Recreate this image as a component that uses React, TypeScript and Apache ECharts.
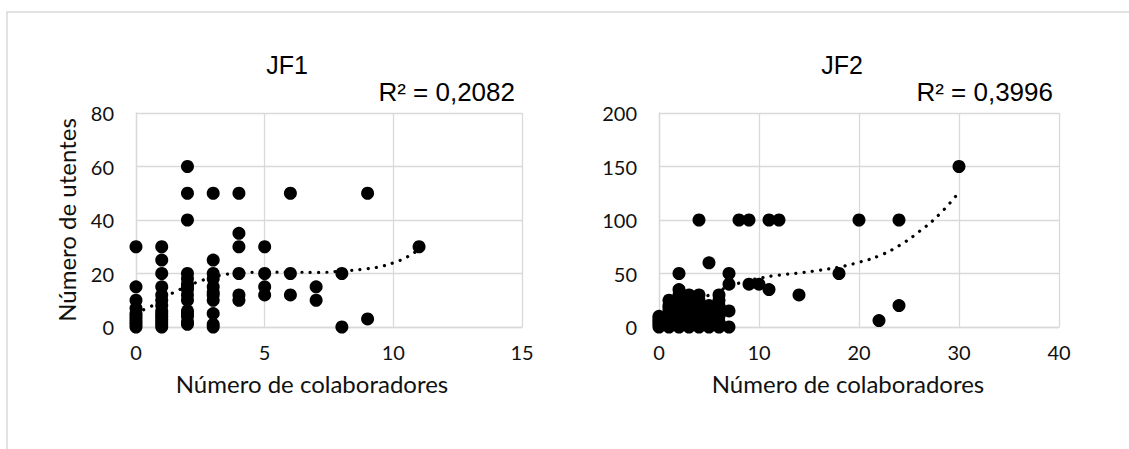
import React, { useEffect, useRef } from "react";
import * as echarts from "echarts";

// JF1 observations [colaboradores, utentes]
const jf1Points: number[][] = [
  [0, 0], [0, 1], [0, 2], [0, 3], [0, 4], [0, 5], [0, 7], [0, 10], [0, 15], [0, 30],
  [1, 0], [1, 1], [1, 2], [1, 3], [1, 4], [1, 5], [1, 6], [1, 8], [1, 10], [1, 12], [1, 15], [1, 20], [1, 25], [1, 30],
  [2, 1], [2, 2], [2, 4], [2, 5], [2, 6], [2, 10], [2, 12], [2, 14], [2, 15], [2, 16], [2, 18], [2, 20], [2, 40], [2, 50], [2, 60],
  [3, 0], [3, 1], [3, 5], [3, 10], [3, 12], [3, 13], [3, 15], [3, 18], [3, 20], [3, 25], [3, 50],
  [4, 10], [4, 12], [4, 20], [4, 30], [4, 35], [4, 50],
  [5, 12], [5, 15], [5, 20], [5, 30],
  [6, 12], [6, 20], [6, 50],
  [7, 10], [7, 15],
  [8, 0], [8, 20],
  [9, 3], [9, 50],
  [11, 30],
];

// JF1 dotted trend line
const jf1Trend: number[][] = [
  [0, 5.5], [0.5, 7.3], [1, 10.3], [1.5, 13.1], [2, 15.2], [2.5, 17.2], [3, 18.6], [3.5, 19.7],
  [4, 20.2], [5, 20.5], [6, 20.5], [7, 20.4], [8, 20.9], [9, 21.8], [9.5, 22.6], [10, 24], [10.5, 26], [11, 29],
];

// JF2 observations [colaboradores, utentes]
const jf2Points: number[][] = [
  [0, 0], [0, 2], [0, 4], [0, 6], [0, 8], [0, 10],
  [1, 0], [1, 3], [1, 5], [1, 8], [1, 10], [1, 12], [1, 15], [1, 18], [1, 20], [1, 25],
  [2, 0], [2, 3], [2, 5], [2, 8], [2, 10], [2, 12], [2, 15], [2, 18], [2, 20], [2, 25], [2, 30], [2, 35], [2, 50],
  [3, 0], [3, 3], [3, 5], [3, 8], [3, 10], [3, 12], [3, 15], [3, 20], [3, 25], [3, 30],
  [4, 0], [4, 5], [4, 10], [4, 15], [4, 20], [4, 25], [4, 30], [4, 100],
  [5, 0], [5, 5], [5, 8], [5, 10], [5, 15], [5, 20], [5, 60],
  [6, 0], [6, 5], [6, 10], [6, 15], [6, 20], [6, 25], [6, 30],
  [7, 0], [7, 15], [7, 40], [7, 50],
  [8, 100], [9, 40], [9, 100], [10, 40], [11, 35], [11, 100], [12, 100],
  [14, 30], [18, 50], [20, 100], [22, 6], [24, 20], [24, 100], [30, 150],
];

// JF2 dotted trend line
const jf2Trend: number[][] = [
  [2, 14], [4, 25], [6, 34], [8, 41], [10, 45.5], [12, 48.5], [14, 50.5], [16, 53],
  [18, 56], [20, 60.5], [22, 66.5], [24, 76], [26, 89], [28, 105], [30, 126],
];

const jf1XTicks = { min: 0, max: 15, interval: 5 };
const jf1YTicks = { min: 0, max: 80, interval: 20 };
const jf2XTicks = { min: 0, max: 40, interval: 10 };
const jf2YTicks = { min: 0, max: 200, interval: 50 };

const titles = ["JF1", "JF2"];
const r2Labels = ["R² = 0,2082", "R² = 0,3996"];
const xAxisTitle = "Número de colaboradores";
const yAxisTitle = "Número de utentes";

const GRID = "#d9d9d9";
const TXT = "#111";
const LABEL_FONT = "Lato, 'Noto Sans', sans-serif";
const TITLE_FONT = "'Liberation Sans', Arial, sans-serif";

function axisX(idx: number, t: { min: number; max: number; interval: number }, shiftPad: number) {
  return {
    type: "value",
    gridIndex: idx,
    min: t.min,
    max: t.max,
    interval: t.interval,
    name: xAxisTitle,
    nameLocation: "middle",
    nameGap: 44,
    nameTextStyle: { color: TXT, fontSize: 24, fontFamily: LABEL_FONT, padding: [0, shiftPad, 0, 0] },
    axisLine: { show: true, lineStyle: { color: GRID, width: 1.3 } },
    axisTick: { show: false },
    axisLabel: { color: TXT, fontSize: 20, fontFamily: LABEL_FONT, margin: 15 },
    splitLine: { show: true, lineStyle: { color: GRID, width: 1.3 } },
  };
}

function axisY(idx: number, t: { min: number; max: number; interval: number }, withName: boolean) {
  return {
    type: "value",
    gridIndex: idx,
    min: t.min,
    max: t.max,
    interval: t.interval,
    name: withName ? yAxisTitle : "",
    nameLocation: "middle",
    nameGap: 58,
    nameRotate: 90,
    nameTextStyle: { color: TXT, fontSize: 24, fontFamily: LABEL_FONT },
    axisLine: { show: true, lineStyle: { color: GRID, width: 1.3 } },
    axisTick: { show: false },
    axisLabel: { color: TXT, fontSize: 20, fontFamily: LABEL_FONT, margin: 22 },
    splitLine: { show: true, lineStyle: { color: GRID, width: 1.3 } },
  };
}

const trendStyle = { color: "#000", width: 3.2, type: [0.1, 8.2], cap: "round" };
const markerStyle = { color: "#000", opacity: 1 };

export default function App() {
  const ref = useRef<HTMLDivElement>(null);
  useEffect(() => {
    if (!ref.current) return;
    const chart = echarts.init(ref.current, null, { renderer: "svg" });
    chart.setOption({
      animation: false,
      backgroundColor: "#fff",
      graphic: [
        {
          type: "rect",
          silent: true,
          z: -10,
          shape: { x: 7, y: 12, width: 1300, height: 600 },
          style: { fill: "none", stroke: GRID, lineWidth: 1.5 },
        },
        {
          type: "text",
          x: 287,
          y: 65,
          style: { text: titles[0], fontSize: 25, fontFamily: TITLE_FONT, fill: "#000", align: "center", verticalAlign: "middle" },
        },
        {
          type: "text",
          x: 842,
          y: 65,
          style: { text: titles[1], fontSize: 25, fontFamily: TITLE_FONT, fill: "#000", align: "center", verticalAlign: "middle" },
        },
        {
          type: "text",
          x: 515,
          y: 92,
          style: { text: r2Labels[0], fontSize: 26, fontFamily: TITLE_FONT, fill: "#000", align: "right", verticalAlign: "middle" },
        },
        {
          type: "text",
          x: 1053,
          y: 92,
          style: { text: r2Labels[1], fontSize: 26, fontFamily: TITLE_FONT, fill: "#000", align: "right", verticalAlign: "middle" },
        },
      ],
      grid: [
        { left: 136, top: 113, width: 386, height: 214 },
        { left: 659, top: 113, width: 400, height: 214 },
      ],
      xAxis: [axisX(0, jf1XTicks, 34), axisX(1, jf2XTicks, 22)],
      yAxis: [axisY(0, jf1YTicks, true), axisY(1, jf2YTicks, false)],
      series: [
        {
          type: "scatter",
          xAxisIndex: 0,
          yAxisIndex: 0,
          data: jf1Points,
          symbolSize: 13,
          itemStyle: markerStyle,
          z: 2,
        },
        {
          type: "line",
          xAxisIndex: 0,
          yAxisIndex: 0,
          data: jf1Trend,
          smooth: true,
          showSymbol: false,
          lineStyle: trendStyle,
          z: 3,
        },
        {
          type: "scatter",
          xAxisIndex: 1,
          yAxisIndex: 1,
          data: jf2Points,
          symbolSize: 13,
          itemStyle: markerStyle,
          z: 2,
        },
        {
          type: "line",
          xAxisIndex: 1,
          yAxisIndex: 1,
          data: jf2Trend,
          smooth: true,
          showSymbol: false,
          lineStyle: trendStyle,
          z: 3,
        },
      ],
    });
    return () => chart.dispose();
  }, []);
  return (
    <div
      ref={ref}
      style={{ position: "absolute", left: 0, top: 0, width: 1129, height: 449 }}
    />
  );
}
